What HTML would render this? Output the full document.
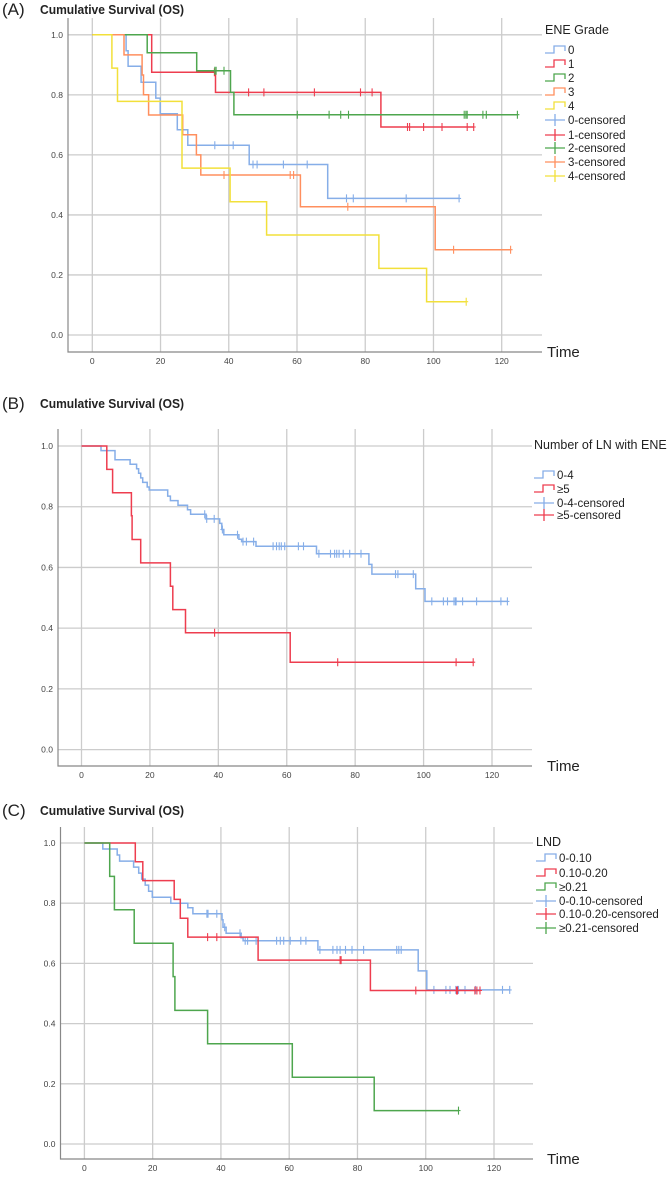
<!DOCTYPE html>
<html><head><meta charset="utf-8"><style>
html,body{margin:0;padding:0;background:#fff;}
svg{display:block;font-family:"Liberation Sans",sans-serif;}
</style></head><body>
<svg id="fig" width="668" height="1177" viewBox="0 0 668 1177" xmlns="http://www.w3.org/2000/svg"></svg>
<script>
// ---------- Panel A data (ENE Grade) ----------
const aNames = ["0","1","2","3","4"];
const a0Times = [9.9,10.5,14.3,18.6,19.9,24.9,28,46,69];
const a0Surv  = [0.947,0.895,0.842,0.789,0.737,0.684,0.632,0.568,0.455];
const a0Cens  = [35.9,41.3,47.1,48.3,56,63,74.5,76.5,92,107.5];
const a1Times = [17.4,36.1,84.6];
const a1Surv  = [0.875,0.808,0.693];
const a1Cens  = [35.8,45.8,50.3,65.1,78.6,82,92.4,93,97.1,102.5,109.9,111.8];
const a2Times = [16.1,30.6,40.5,41.5];
const a2Surv  = [0.94,0.88,0.808,0.734];
const a2Cens  = [35.9,36.3,38.6,60.1,69.4,72.8,75.1,109,109.5,109.9,114.5,115.5,124.6];
const a3Times = [9.3,14.6,15.0,16.5,26.5,30.5,31.8,61,100.5];
const a3Surv  = [0.933,0.866,0.80,0.733,0.667,0.60,0.533,0.427,0.284];
const a3Cens  = [38.6,58,59,74.9,105.9,122.6];
const a4Times = [5.75,7.4,26.3,40.4,51.1,84,98];
const a4Surv  = [0.889,0.778,0.556,0.444,0.333,0.222,0.111];
const a4Cens  = [109.6];
// ---------- Panel B data (Number of LN with ENE) ----------
const bNames = ["0-4","≥5"];
const b0Times = [5.7,9.8,14.2,16.1,16.7,17.3,17.9,19.2,19.8,25.2,26,28.2,31,31.9,36.4,40.4,41,41.6,46,46.8,51,68.7,84,84.9,97.7,100.4];
const b0Surv  = [0.985,0.955,0.94,0.925,0.91,0.895,0.88,0.865,0.855,0.835,0.82,0.805,0.79,0.775,0.76,0.745,0.725,0.708,0.693,0.685,0.67,0.645,0.61,0.578,0.53,0.488];
const b0Cens  = [36,36.6,38.8,41.2,45.6,47.2,48.2,50.3,56,57,57.8,58.4,59.4,63.4,64.9,69.4,72.8,74,74.6,75.3,76.5,78.4,81.7,91.8,92.5,97,102.4,105.8,107,108.9,109.3,109.5,111.4,115.5,122.6,124.5];
const b1Times = [7.4,9.1,14.6,14.8,17.3,26,26.7,30.4,61];
const b1Surv  = [0.923,0.846,0.77,0.692,0.615,0.538,0.461,0.385,0.288];
const b1Cens  = [38.9,74.9,109.5,114.5];
// ---------- Panel C data (LND) ----------
const cNames = ["0-0.10","0.10-0.20","≥0.21"];
const c0Times = [5.4,9.6,10.3,14.4,15.9,16.8,17.8,18.8,19.9,25.3,30.3,31.8,40.3,40.6,41.5,45.9,46.5,68.4,97.8,100.3];
const c0Surv  = [0.98,0.96,0.94,0.92,0.90,0.88,0.86,0.84,0.82,0.80,0.785,0.765,0.745,0.72,0.70,0.685,0.675,0.645,0.575,0.512];
const c0Cens  = [35.9,36.2,38.8,41.1,45.6,47.1,47.8,50.3,56.3,57.4,58.4,60.3,63.4,64.9,69,72.8,74,74.9,76.5,78.4,81.8,91.5,92.1,92.8,102.4,105.9,107.1,108.8,109.3,109.6,111.5,114.6,122.5,124.6];
const c1Times = [14.9,17.1,26.3,28.1,30.3,50.9,83.8];
const c1Surv  = [0.9375,0.875,0.8125,0.75,0.6875,0.611,0.51];
const c1Cens  = [36.1,38.8,74.9,75.2,97.1,109,109.3,114.4,115,115.9];
const c2Times = [7.4,8.8,14.6,26,26.5,36.1,60.9,84.9];
const c2Surv  = [0.889,0.778,0.667,0.556,0.444,0.333,0.222,0.111];
const c2Cens  = [109.6];
// ---------- Axis ticks ----------
const xTicks = [0,20,40,60,80,100,120];
const yTicks = [0,0.2,0.4,0.6,0.8,1.0];

const NS="http://www.w3.org/2000/svg";
const svg=document.getElementById('fig');
function mk(tag,attrs,parent){const e=document.createElementNS(NS,tag);for(const k in attrs)e.setAttribute(k,attrs[k]);(parent||svg).appendChild(e);return e;}
function stepFn(times,surv,t){let s=1;for(let i=0;i<times.length;i++){if(times[i]<=t)s=surv[i];}return s;}

function panel(P){
  const g=mk('g',{});
  
  
  const X=t=>P.x0+(P.x120-P.x0)*t/120;
  const Y=v=>P.y0+(P.y1-P.y0)*v;
  const lab=mk('text',{x:2,y:P.titleY+6,'font-size':17,fill:'#222'},g);lab.textContent=P.label;
  
  const tt=mk('text',{x:40,y:P.titleY+5,'font-size':13,'font-weight':'bold',fill:'#222','textLength':144,'lengthAdjust':'spacingAndGlyphs'},g);tt.textContent="Cumulative Survival (OS)";
  
  xTicks.forEach(t=>{
    const l=mk('line',{x1:X(t),x2:X(t),y1:P.axTop,y2:P.axBot,stroke:'#cccccc','stroke-width':1.3},g);
    
    const tx=mk('text',{x:X(t),y:P.axBot+12,'font-size':8.5,fill:'#444','text-anchor':'middle'},g);tx.textContent=t;
    
  });
  yTicks.forEach(v=>{
    const l=mk('line',{x1:P.axL,x2:P.gridR,y1:Y(v),y2:Y(v),stroke:'#cccccc','stroke-width':1.3},g);
    
    const tx=mk('text',{x:P.axL-5,y:Y(v)+3,'font-size':8.5,fill:'#444','text-anchor':'end'},g);tx.textContent=v.toFixed(1);
    
  });
  const ax=mk('path',{d:`M${P.axL},${P.axTop}V${P.axBot}H${P.gridR}`,fill:'none',stroke:'#888','stroke-width':1.2},g);
  
  const tm=mk('text',{x:547,y:P.axBot+5,'font-size':15,fill:'#222'},g);tm.textContent="Time";
  
  P.series.forEach((s,i)=>{
    const end=Math.max(s.cens.length?Math.max(...s.cens):0,s.times[s.times.length-1]);
    let d=`M${X(0)},${Y(1)}`;
    s.times.forEach((t,j)=>{d+=`H${X(t).toFixed(1)}V${Y(s.surv[j]).toFixed(1)}`;});
    d+=`H${X(end).toFixed(1)}`;
    const p=mk('path',{d:d,fill:'none',stroke:s.color,'stroke-width':1.5},g);
    
    
    s.cens.forEach(t=>{
      const v=stepFn(s.times,s.surv,t);
      const c=mk('path',{d:`M${X(t).toFixed(1)},${(Y(v)-4).toFixed(1)}v8M${(X(t)-2).toFixed(1)},${Y(v).toFixed(1)}h4`,stroke:s.color,'stroke-width':1.1,fill:'none'},g);
      
      
    });
  });
  const lt=mk('text',{x:P.legX,y:P.legTitleY+5,'font-size':12.5,fill:'#222'},g);lt.textContent=P.legTitle;
  
  const entries=[];
  P.series.forEach(s=>entries.push({name:s.name,color:s.color,cens:false}));
  P.series.forEach(s=>entries.push({name:s.name+'-censored',color:s.color,cens:true}));
  entries.forEach((e,k)=>{
    const y=P.legY[k];const x=P.legX;
    const eg=mk('g',{},g);
    
    
    if(e.cens) mk('path',{d:`M${x},${y}h20M${x+10},${y-6}v12`,stroke:e.color,'stroke-width':1.3,fill:'none'},eg);
    else mk('path',{d:`M${x},${y+3}h9v-7h11v5`,stroke:e.color,'stroke-width':1.3,fill:'none'},eg);
    const t=mk('text',{x:x+23,y:y+4,'font-size':11.5,fill:'#222'},eg);t.textContent=e.name;
  });
}

panel({key:'a',label:'(A)',titleY:9,x0:92.3,x120:501.7,y1:34.8,y0:335,axL:68,axTop:18,axBot:352,gridR:542,
  legTitle:'ENE Grade',legX:545,legTitleY:29,legY:[50,64,78,92,106,120,135,148,162,176],
  series:[
    {name:aNames[0],color:'#86aee8',times:a0Times,surv:a0Surv,cens:a0Cens},
    {name:aNames[1],color:'#ee3d4f',times:a1Times,surv:a1Surv,cens:a1Cens},
    {name:aNames[2],color:'#4ea64e',times:a2Times,surv:a2Surv,cens:a2Cens},
    {name:aNames[3],color:'#ff8f5e',times:a3Times,surv:a3Surv,cens:a3Cens},
    {name:aNames[4],color:'#f2e03a',times:a4Times,surv:a4Surv,cens:a4Cens}]});
panel({key:'b',label:'(B)',titleY:403,x0:81.5,x120:492,y1:446,y0:749.6,axL:58,axTop:429,axBot:766,gridR:532,
  legTitle:'Number of LN with ENE',legX:534,legTitleY:444,legY:[475,489,503,515],
  series:[
    {name:bNames[0],color:'#86aee8',times:b0Times,surv:b0Surv,cens:b0Cens},
    {name:bNames[1],color:'#ee3d4f',times:b1Times,surv:b1Surv,cens:b1Cens}]});
panel({key:'c',label:'(C)',titleY:810,x0:84.4,x120:494,y1:843,y0:1144,axL:60.5,axTop:827,axBot:1159,gridR:533,
  legTitle:'LND',legX:536,legTitleY:841,legY:[858,873,887,901,914,928],
  series:[
    {name:cNames[0],color:'#86aee8',times:c0Times,surv:c0Surv,cens:c0Cens},
    {name:cNames[1],color:'#ee3d4f',times:c1Times,surv:c1Surv,cens:c1Cens},
    {name:cNames[2],color:'#4ea64e',times:c2Times,surv:c2Surv,cens:c2Cens}]});
</script>
</body></html>
